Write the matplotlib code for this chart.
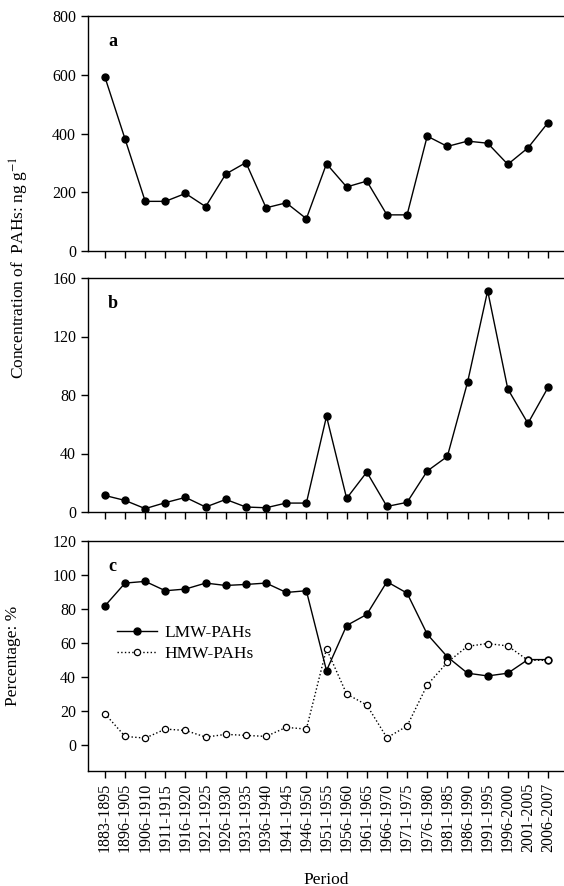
import matplotlib
matplotlib.use("Agg")
import matplotlib.pyplot as plt

# sampling periods (x axis)
periods = ['1883-1895', '1896-1905', '1906-1910', '1911-1915', '1916-1920',
           '1921-1925', '1926-1930', '1931-1935', '1936-1940', '1941-1945',
           '1946-1950', '1951-1955', '1956-1960', '1961-1965', '1966-1970',
           '1971-1975', '1976-1980', '1981-1985', '1986-1990', '1991-1995',
           '1996-2000', '2001-2005', '2006-2007']

# panel a: total PAHs concentration (ng/g)
total_pahs = [592, 381, 169, 169, 196, 151, 262, 301, 147, 164, 110, 297,
              218, 238, 123, 123, 391, 356, 374, 367, 295, 351, 437]

# panel b: concentration (ng/g)
panel_b = [11.3, 7.9, 2.3, 6.4, 10.0, 3.4, 8.6, 3.4, 2.9, 6.1, 6.1, 65.4,
           9.3, 27.3, 3.8, 6.6, 28.0, 38.0, 88.6, 151.3, 84.1, 60.6, 85.2]

# panel c: percentages
lmw_pct = [81.9, 95.3, 96.3, 90.8, 91.8, 95.3, 93.9, 94.5, 95.3, 89.8, 90.8,
           43.9, 70.4, 76.9, 96.1, 89.4, 65.3, 52.0, 42.4, 40.8, 42.4, 50.4, 50.4]
hmw_pct = [18.6, 5.3, 4.3, 9.6, 8.8, 4.9, 6.5, 5.9, 5.3, 10.6, 9.6,
           56.7, 30.2, 23.7, 4.5, 11.4, 35.5, 48.8, 58.2, 59.8, 58.4, 50.0, 50.0]

plt.rcParams['font.family'] = ['Liberation Serif', 'DejaVu Serif']
plt.rcParams['mathtext.fontset'] = 'stix'
plt.rcParams['font.size'] = 11

W, H = 564, 886
fig = plt.figure(figsize=(W / 100, H / 100), dpi=100)

def px_axes(top, bottom, left=88, right=564):
    return fig.add_axes([left / W, 1 - bottom / H, (right - left) / W, (bottom - top) / H])

ax_a = px_axes(16, 251)
ax_b = px_axes(278, 512)
ax_c = px_axes(541, 771)

x = list(range(len(periods)))

def style(ax, ylim, yticks, letter):
    ax.set_xlim(-0.84, 22.79)
    ax.set_ylim(*ylim)
    ax.set_yticks(yticks)
    ax.set_xticks(x)
    ax.spines['right'].set_visible(False)
    for s in ['left', 'bottom', 'top']:
        ax.spines[s].set_linewidth(1.0)
    ax.tick_params(direction='out', length=5, width=1, labelsize=11.5)
    ax.text(0.38, ylim[1] - (ylim[1] - ylim[0]) * 0.11, letter, fontweight='bold',
            fontsize=13, ha='center', va='center')

# === Panel a ===
ax_a.plot(x, total_pahs, '-o', color='black', lw=1, ms=5)
style(ax_a, (0, 800), [0, 200, 400, 600, 800], 'a')
ax_a.set_xticklabels([])

# === Panel b ===
ax_b.plot(x, panel_b, '-o', color='black', lw=1, ms=5)
style(ax_b, (0, 160), [0, 40, 80, 120, 160], 'b')
ax_b.set_xticklabels([])

# === Panel c ===
ax_c.plot(x, lmw_pct, '-o', color='black', lw=1, ms=5, label='LMW-PAHs')
ax_c.plot(x, hmw_pct, ':o', color='black', lw=1, ms=4.5, mfc='white',
          mew=0.9, label='HMW-PAHs')
style(ax_c, (-15, 120), [0, 20, 40, 60, 80, 100, 120], 'c')
ax_c.set_xticklabels(periods, rotation=90)
ax_c.set_ylabel('Percentage: %', fontsize=12.5)
ax_c.yaxis.set_label_coords(-(88 - 21) / 476, 0.5)
ax_c.set_xlabel('Period', fontsize=12.5, labelpad=14)
ax_c.legend(loc='center left', bbox_to_anchor=((117 - 88) / 476, (771 - 643.5) / 230),
            frameon=False, fontsize=12.5, handlelength=2.3, handletextpad=0.45,
            labelspacing=0.25, borderpad=0, borderaxespad=0)

fig.text(19 / W, 1 - 268 / H, 'Concentration of  PAHs: ng g$^{-1}$', rotation=90,
         ha='center', va='center', fontsize=12.5)

fig.savefig('out.png', dpi=100)
